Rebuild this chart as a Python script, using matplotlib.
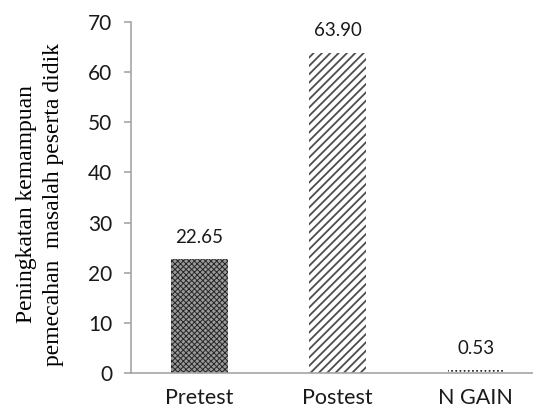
import matplotlib
matplotlib.use("Agg")
import matplotlib.pyplot as plt

# data
categories = ["Pretest", "Postest", "N GAIN"]
values = [22.65, 63.90, 0.53]
value_labels = ["22.65", "63.90", "0.53"]
hatches = ["xxxxxx", "////", "...."]
face_colors = ["#9a9a9a", "white", "white"]
hatch_colors = ["#262626", "#4d4d4d", "#262626"]
y_ticks = [0, 10, 20, 30, 40, 50, 60, 70]

plt.rcParams["font.family"] = ["Lato", "DejaVu Sans"]

fig = plt.figure(figsize=(5.33, 4.15), dpi=100)
ax = fig.add_axes([130.5 / 533, 42 / 415, (545 - 130.5) / 533, (373 - 22) / 415])

positions = range(len(categories))
hatch_lw = {"xxxxxx": 0.7, "////": 1.3, "....": 0.8}
for i, (v, h, fc, hc) in enumerate(zip(values, hatches, face_colors, hatch_colors)):
    with plt.rc_context({"hatch.linewidth": hatch_lw[h]}):
        ax.bar(i, v, width=0.41, color=fc, hatch=h, edgecolor=hc, linewidth=0)

for i, (v, lab) in enumerate(zip(values, value_labels)):
    ax.annotate(lab, (i, v), xytext=(0, 16), textcoords="offset points",
                ha="center", va="center", fontsize=13.5, color="#1a1a1a")

ax.set_xlim(-0.5, 2.5)
ax.set_ylim(0, 70)
ax.set_yticks(y_ticks)
ax.set_xticks(list(positions))
ax.set_xticklabels(categories)

for side in ["top", "right"]:
    ax.spines[side].set_visible(False)
for side in ["left", "bottom"]:
    ax.spines[side].set_color("#a6a6a6")
    ax.spines[side].set_linewidth(1.2)

ax.tick_params(axis="y", length=5, width=1.2, color="#a6a6a6", pad=8,
               labelsize=15, labelcolor="#1a1a1a")
ax.tick_params(axis="x", length=0, pad=11, labelsize=15.5, labelcolor="#1a1a1a")

fig.text(40 / 533, 1 - 204 / 415,
         "Peningkatan kemampuan\npemecahan  masalah peserta didik",
         rotation=90, ha="center", va="center", multialignment="center",
         fontsize=17, family="Liberation Serif", linespacing=1.4)

fig.savefig("out.png", dpi=100)
